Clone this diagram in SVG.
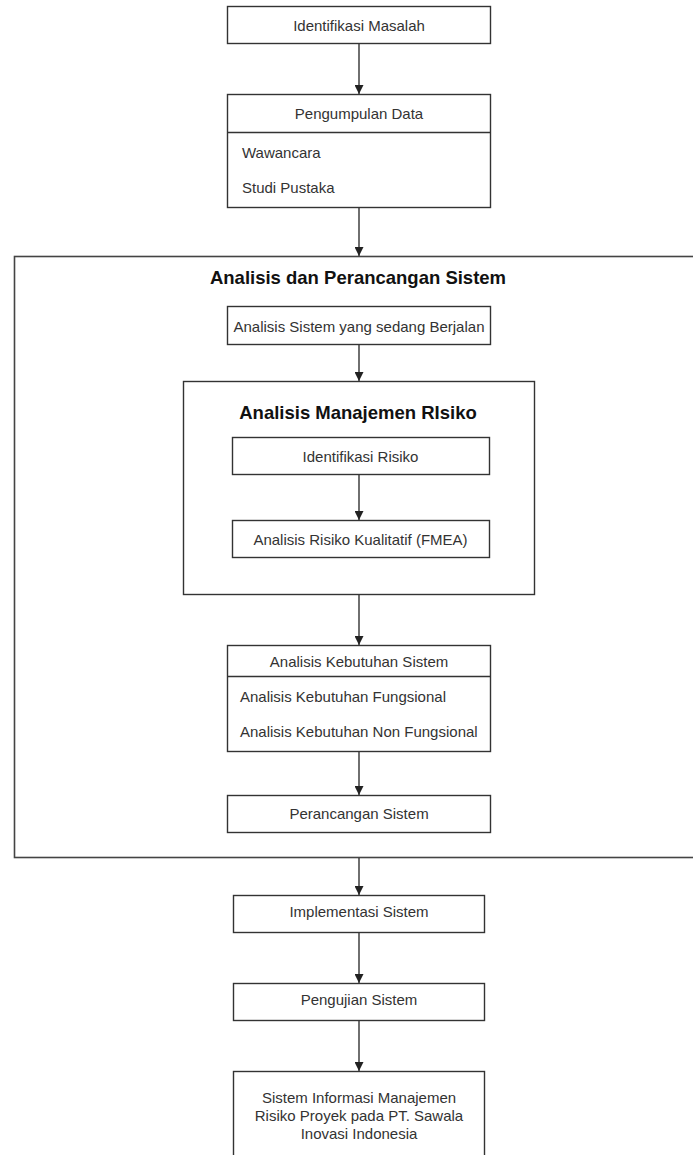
<svg xmlns="http://www.w3.org/2000/svg" width="693" height="1155" viewBox="0 0 693 1155">
<style>
.box{fill:#fff;stroke:#333;stroke-width:1.4}
.cont{fill:none;stroke:#444;stroke-width:1.6}
.t{font-family:"Liberation Sans",Arial,sans-serif;font-size:15px;fill:#333}
.c{text-anchor:middle}
.h{font-family:"Liberation Sans",Arial,sans-serif;font-size:18.5px;font-weight:bold;fill:#111;text-anchor:middle}
.conn line{stroke:#333;stroke-width:1.4;marker-end:url(#ah)}
</style>
<defs>
<marker id="ah" viewBox="0 0 10 10" refX="10" refY="5" markerWidth="9" markerHeight="9" markerUnits="userSpaceOnUse" orient="auto">
<path d="M0,0 L10,5 L0,10 z" fill="#222"/>
</marker>
</defs>
<rect width="693" height="1155" fill="#fff"/>

<g id="analisis-perancangan">
<rect class="cont" x="14.5" y="256.5" width="690" height="601"/>
<text class="h" x="358" y="283.5">Analisis dan Perancangan Sistem</text>
</g>

<g id="analisis-manajemen-risiko">
<rect class="box" x="183.5" y="381.5" width="351" height="213"/>
<text class="h" x="358" y="418.5">Analisis Manajemen RIsiko</text>
</g>

<g id="identifikasi-masalah">
<rect class="box" x="227.5" y="6.5" width="263" height="37"/>
<text class="t c" x="359" y="31">Identifikasi Masalah</text>
</g>

<g id="pengumpulan-data">
<rect class="box" x="227.5" y="94.5" width="263" height="113"/>
<line x1="227.5" y1="132.5" x2="490.5" y2="132.5" stroke="#333" stroke-width="1.4"/>
<text class="t c" x="359" y="118.5">Pengumpulan Data</text>
<text class="t" x="242" y="157.5">Wawancara</text>
<text class="t" x="242" y="192.5">Studi Pustaka</text>
</g>

<g id="analisis-sistem-berjalan">
<rect class="box" x="227.5" y="306.5" width="263" height="38"/>
<text class="t c" x="359" y="332">Analisis Sistem yang sedang Berjalan</text>
</g>

<g id="identifikasi-risiko">
<rect class="box" x="232.5" y="437.5" width="257" height="37"/>
<text class="t c" x="360.5" y="462">Identifikasi Risiko</text>
</g>

<g id="analisis-risiko-kualitatif">
<rect class="box" x="232.5" y="520.5" width="257" height="37"/>
<text class="t c" x="360.5" y="544.5">Analisis Risiko Kualitatif (FMEA)</text>
</g>

<g id="analisis-kebutuhan-sistem">
<rect class="box" x="227.5" y="645.5" width="263" height="106"/>
<line x1="227.5" y1="676.5" x2="490.5" y2="676.5" stroke="#333" stroke-width="1.4"/>
<text class="t c" x="359" y="667">Analisis Kebutuhan Sistem</text>
<text class="t" x="240" y="702">Analisis Kebutuhan Fungsional</text>
<text class="t" x="240" y="736.5">Analisis Kebutuhan Non Fungsional</text>
</g>

<g id="perancangan-sistem">
<rect class="box" x="227.5" y="795.5" width="263" height="37"/>
<text class="t c" x="359" y="818.5">Perancangan Sistem</text>
</g>

<g id="implementasi-sistem">
<rect class="box" x="233.5" y="895.5" width="251" height="37"/>
<text class="t c" x="359" y="917">Implementasi Sistem</text>
</g>

<g id="pengujian-sistem">
<rect class="box" x="233.5" y="983.5" width="251" height="37"/>
<text class="t c" x="359" y="1004.5">Pengujian Sistem</text>
</g>

<g id="sistem-informasi">
<rect class="box" x="233.5" y="1071.5" width="251" height="100"/>
<text class="t c" x="359" y="1102.5">Sistem Informasi Manajemen</text>
<text class="t c" x="359" y="1120.5">Risiko Proyek pada PT. Sawala</text>
<text class="t c" x="359" y="1138.5">Inovasi Indonesia</text>
</g>

<g id="connectors" class="conn">
<line x1="359" y1="44" x2="359" y2="94"/>
<line x1="359" y1="208" x2="359" y2="256"/>
<line x1="359" y1="345" x2="359" y2="381"/>
<line x1="359" y1="475" x2="359" y2="520"/>
<line x1="359" y1="595" x2="359" y2="645"/>
<line x1="359" y1="752" x2="359" y2="795"/>
<line x1="359" y1="858" x2="359" y2="895"/>
<line x1="359" y1="933" x2="359" y2="983"/>
<line x1="359" y1="1021" x2="359" y2="1071"/>
</g>
</svg>
